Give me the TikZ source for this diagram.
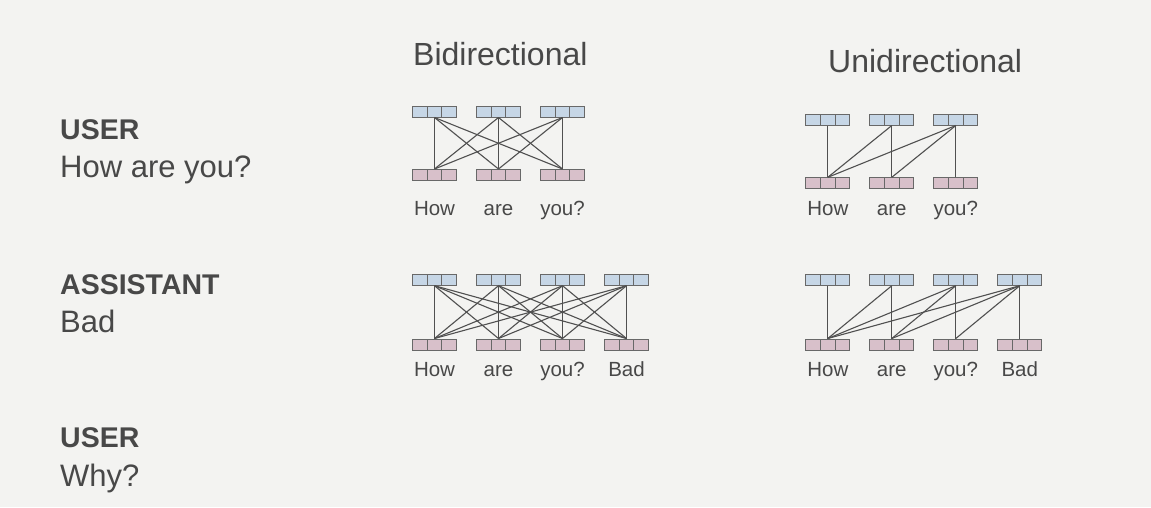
\documentclass[tikz,border=0pt]{standalone}
\usepackage{fontspec}
\setmainfont{Liberation Sans}
\definecolor{bgc}{HTML}{F3F3F1}
\definecolor{txt}{HTML}{484848}
\definecolor{boxblue}{HTML}{C6D6E6}
\definecolor{boxpink}{HTML}{D8C0CA}
\definecolor{boxedge}{HTML}{686868}
\definecolor{linec}{HTML}{505050}
\tikzset{
  cellbox/.style={rectangle, minimum width=44pt, minimum height=11pt, inner sep=0pt,
    draw=boxedge, line width=1pt,
    path picture={
      \foreach \k in {-1,1}{
        \draw[boxedge, line width=1pt]
          ([xshift=\k*7.33pt]path picture bounding box.north) --
          ([xshift=\k*7.33pt]path picture bounding box.south);
      }
    }},
  topbox/.style={cellbox, fill=boxblue},
  botbox/.style={cellbox, fill=boxpink},
  conn/.style={draw=linec, line width=1.1pt},
  heading/.style={anchor=base west, inner sep=0pt, text=txt, font=\fontsize{32}{38}\selectfont},
  role/.style={anchor=base west, inner sep=0pt, text=txt, font=\bfseries\fontsize{28.5}{34}\selectfont},
  msg/.style={anchor=base west, inner sep=0pt, text=txt, font=\fontsize{31}{37}\selectfont},
  wordlbl/.style={anchor=base, inner sep=0pt, text=txt, font=\fontsize{20.5}{24}\selectfont}
}
\begin{document}
\begin{tikzpicture}[x=1pt,y=-1pt]
\fill[bgc] (0,0) rectangle (1151,507);
\useasboundingbox (0,0) rectangle (1151,507);

% left column texts
\node[role] (u1) at (60,139) {USER};
\node[msg]  (m1) at (60,177) {How are you?};
\node[role] (a1) at (60,294) {ASSISTANT};
\node[msg]  (m2) at (60,332.5) {Bad};
\node[role] (u2) at (60,447.5) {USER};
\node[msg]  (m3) at (60,486.5) {Why?};

% headings
\node[heading] (hb) at (413,65) {Bidirectional};
\node[heading] (hu) at (828,72.7) {Unidirectional};

% ---- Bidirectional, 3 tokens
\foreach \i/\w in {1/How,2/are,3/you?}{
  \node[topbox] (At\i) at ({434.5+64*(\i-1)},111.5) {};
  \node[botbox] (Ab\i) at ({434.5+64*(\i-1)},175) {};
  \node[wordlbl] (Al\i) at ({434.5+64*(\i-1)},215.5) {\w};
}
\foreach \i in {1,2,3}{
  \foreach \j in {1,2,3}{
    \draw[conn] (Ab\i.north) -- (At\j.south);
  }
}

% ---- Bidirectional, 4 tokens
\foreach \i/\w in {1/How,2/are,3/you?,4/Bad}{
  \node[topbox] (Bt\i) at ({434.5+64*(\i-1)},279.7) {};
  \node[botbox] (Bb\i) at ({434.5+64*(\i-1)},344.5) {};
  \node[wordlbl] (Bl\i) at ({434.5+64*(\i-1)},376) {\w};
}
\foreach \i in {1,2,3,4}{
  \foreach \j in {1,2,3,4}{
    \draw[conn] (Bb\i.north) -- (Bt\j.south);
  }
}

% ---- Unidirectional, 3 tokens
\foreach \i/\w in {1/How,2/are,3/you?}{
  \node[topbox] (Ct\i) at ({827.8+64*(\i-1)},119.5) {};
  \node[botbox] (Cb\i) at ({827.8+64*(\i-1)},183.3) {};
  \node[wordlbl] (Cl\i) at ({827.8+64*(\i-1)},215) {\w};
}
\foreach \i/\j in {1/1,1/2,1/3,2/2,2/3,3/3}{
  \draw[conn] (Cb\i.north) -- (Ct\j.south);
}

% ---- Unidirectional, 4 tokens
\foreach \i/\w in {1/How,2/are,3/you?,4/Bad}{
  \node[topbox] (Dt\i) at ({827.8+64*(\i-1)},279.7) {};
  \node[botbox] (Db\i) at ({827.8+64*(\i-1)},344.5) {};
  \node[wordlbl] (Dl\i) at ({827.8+64*(\i-1)},376) {\w};
}
\foreach \i/\j in {1/1,1/2,1/3,1/4,2/2,2/3,2/4,3/3,3/4,4/4}{
  \draw[conn] (Db\i.north) -- (Dt\j.south);
}
\end{tikzpicture}
\end{document}
